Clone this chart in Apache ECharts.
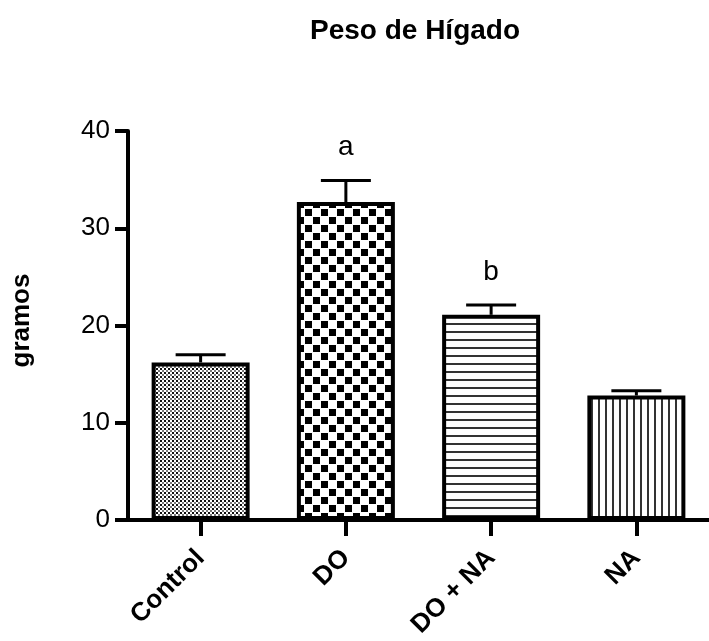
<!DOCTYPE html>
<html>
<head>
<meta charset="utf-8">
<script src="https://cdn.jsdelivr.net/npm/echarts@6/dist/echarts.min.js"></script>
<style>
  html, body { margin: 0; padding: 0; background: #fff; }
  #chart { width: 709px; height: 641px; }
</style>
</head>
<body>
<div id="chart"></div>
<script>
// Liver weight per treatment group (grams), mean with upper error
const categories = ['Control', 'DO', 'DO + NA', 'NA'];
const means = [16.2, 32.7, 21.1, 12.8];
const errors = [0.8, 2.2, 1.0, 0.5];
const sigLetters = ['', 'a', 'b', ''];
const yTicks = [0, 10, 20, 30, 40];

// Hatch / fill patterns drawn on small tiles
function tile(w, h, draw) {
  const c = document.createElement('canvas');
  c.width = w; c.height = h;
  const ctx = c.getContext('2d');
  ctx.fillStyle = '#fff';
  ctx.fillRect(0, 0, w, h);
  draw(ctx);
  return c;
}
const patterns = [
  // fine dotted grid
  tile(4, 4, ctx => {
    ctx.fillStyle = '#111';
    ctx.fillRect(0, 0, 2, 2);
    ctx.fillStyle = '#777';
    ctx.fillRect(2, 2, 2, 2);
  }),
  // coarse checkerboard
  tile(16, 16, ctx => {
    ctx.fillStyle = '#000';
    ctx.fillRect(1, 1, 7, 7);
    ctx.fillRect(9, 9, 7, 7);
  }),
  // horizontal stripes
  tile(8, 8, ctx => {
    ctx.fillStyle = '#333';
    ctx.fillRect(0, 3, 8, 2);
  }),
  // vertical stripes
  tile(7, 7, ctx => {
    ctx.fillStyle = '#333';
    ctx.fillRect(3, 0, 2, 7);
  })
];

const chart = echarts.init(document.getElementById('chart'), null, { renderer: 'canvas' });

const font = 'Liberation Sans, Arial, Helvetica, sans-serif';

chart.setOption({
  animation: false,
  backgroundColor: '#fff',
  title: {
    text: 'Peso de Hígado',
    left: 410,
    top: 12,
    textAlign: 'center',
    textStyle: { fontFamily: font, fontSize: 28, fontWeight: 'bold', color: '#000' }
  },
  grid: { left: 128, top: 131, width: 586, bottom: 121, containLabel: false },
  xAxis: {
    type: 'category',
    data: categories,
    axisLine: { lineStyle: { color: '#000', width: 4 } },
    axisTick: { show: true, alignWithLabel: true, length: 16, lineStyle: { color: '#000', width: 4 } },
    axisLabel: {
      rotate: 45, margin: 34, color: '#000',
      fontFamily: font, fontSize: 26, fontWeight: 'bold'
    }
  },
  yAxis: {
    type: 'value',
    min: yTicks[0],
    max: yTicks[yTicks.length - 1],
    interval: 10,
    name: 'gramos',
    nameLocation: 'middle',
    nameGap: 93,
    nameRotate: 90,
    nameTextStyle: { fontFamily: font, fontSize: 26, fontWeight: 'bold', color: '#000', padding: [0, 0, 0, 10] },
    splitLine: { show: false },
    axisLine: { show: true, lineStyle: { color: '#000', width: 4 } },
    axisTick: { show: true, length: 13, lineStyle: { color: '#000', width: 4 } },
    axisLabel: { margin: 18, color: '#000', fontFamily: font, fontSize: 26 }
  },
  series: [
    {
      type: 'bar',
      barWidth: 98,
      data: means.map((v, i) => ({
        value: v,
        itemStyle: {
          color: { image: patterns[i], repeat: 'repeat' },
          borderColor: '#000',
          borderWidth: 4
        }
      })),
      z: 2
    },
    {
      type: 'custom',
      z: 3,
      data: means.map((v, i) => [i, v, v + errors[i], sigLetters[i]]),
      renderItem: function (params, api) {
        const x = api.coord([api.value(0), api.value(1)])[0];
        const yBase = api.coord([api.value(0), api.value(1)])[1];
        const yTop = api.coord([api.value(0), api.value(2)])[1];
        const half = 25;
        const style = { stroke: '#000', lineWidth: 3 };
        const children = [
          { type: 'line', shape: { x1: x, y1: yBase, x2: x, y2: yTop }, style },
          { type: 'line', shape: { x1: x - half, y1: yTop, x2: x + half, y2: yTop }, style }
        ];
        const letter = sigLetters[params.dataIndex];
        if (letter) {
          children.push({
            type: 'text',
            style: {
              text: letter, x: x, y: yTop - 19,
              textAlign: 'center', textVerticalAlign: 'bottom',
              fill: '#000', font: '28px ' + font
            }
          });
        }
        return { type: 'group', children };
      }
    }
  ]
});
</script>
</body>
</html>
